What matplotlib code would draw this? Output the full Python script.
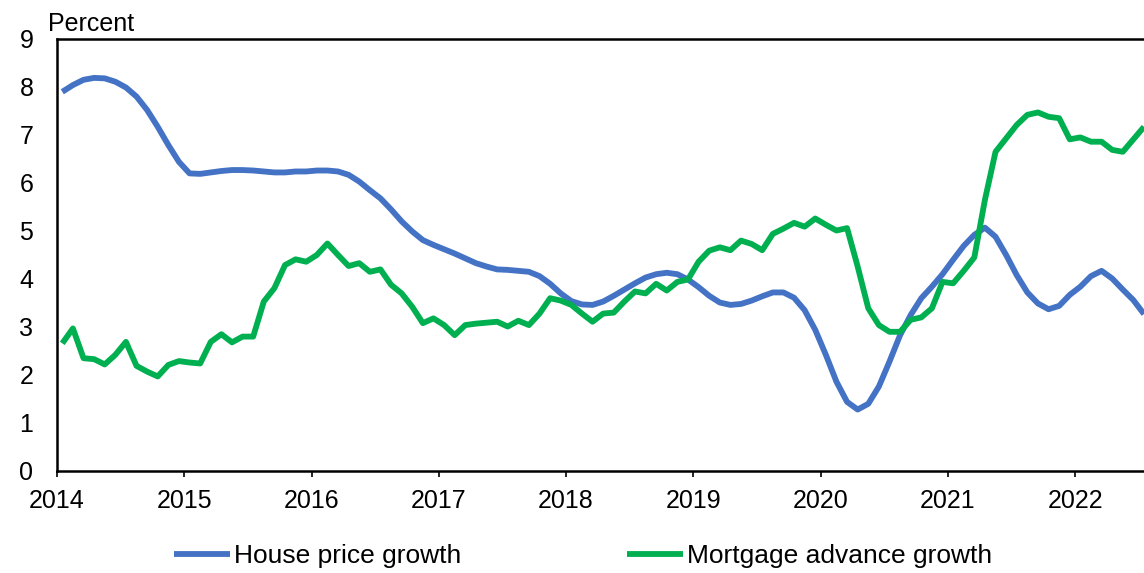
import numpy as np
import matplotlib
matplotlib.use("Agg")
from matplotlib import pyplot as plt

plt.rcParams['font.family'] = ['Liberation Sans', 'DejaVu Sans']

# monthly data, Jan 2014 - Jul 2022
start_year = 2014
house_price = [7.90, 8.04, 8.15, 8.19, 8.18, 8.11, 7.99, 7.80, 7.52, 7.17,
               6.79, 6.44, 6.20, 6.19, 6.22, 6.25, 6.27, 6.27, 6.26, 6.24,
               6.22, 6.22, 6.24, 6.24, 6.26, 6.26, 6.24, 6.17, 6.03, 5.85,
               5.68, 5.45, 5.20, 4.99, 4.81, 4.71, 4.62, 4.53, 4.43, 4.33,
               4.26, 4.20, 4.19, 4.17, 4.15, 4.06, 3.90, 3.70, 3.54, 3.47,
               3.46, 3.53, 3.65, 3.78, 3.91, 4.03, 4.10, 4.13, 4.10, 3.99,
               3.83, 3.65, 3.51, 3.46, 3.48, 3.55, 3.64, 3.72, 3.72, 3.61,
               3.35, 2.94, 2.42, 1.86, 1.44, 1.28, 1.40, 1.76, 2.28, 2.83,
               3.25, 3.60, 3.84, 4.10, 4.40, 4.69, 4.92, 5.07, 4.88, 4.50,
               4.08, 3.72, 3.49, 3.37, 3.44, 3.67, 3.84, 4.06, 4.17, 4.01,
               3.78, 3.56, 3.27]
mortgage = [2.66, 2.97, 2.35, 2.33, 2.22, 2.42, 2.69, 2.19, 2.07, 1.97,
            2.21, 2.29, 2.26, 2.24, 2.69, 2.85, 2.68, 2.80, 2.80, 3.53,
            3.81, 4.29, 4.41, 4.36, 4.50, 4.74, 4.50, 4.27, 4.33, 4.15,
            4.20, 3.88, 3.70, 3.42, 3.08, 3.18, 3.04, 2.83, 3.04, 3.07,
            3.09, 3.11, 3.01, 3.13, 3.04, 3.28, 3.60, 3.55, 3.46, 3.28,
            3.11, 3.28, 3.30, 3.53, 3.74, 3.70, 3.90, 3.76, 3.94, 3.99,
            4.36, 4.59, 4.66, 4.60, 4.80, 4.73, 4.60, 4.94, 5.05, 5.17,
            5.09, 5.26, 5.13, 5.01, 5.06, 4.26, 3.39, 3.04, 2.90, 2.90,
            3.15, 3.20, 3.39, 3.94, 3.91, 4.17, 4.45, 5.65, 6.65, 6.93,
            7.21, 7.42, 7.47, 7.38, 7.35, 6.91, 6.95, 6.86, 6.86, 6.69,
            6.65, 6.91, 7.17]
years = list(range(2014, 2023))

# plot points at mid-month
x = start_year + (np.arange(len(house_price)) + 0.5) / 12

fig = plt.figure(figsize=(11.44, 5.73), dpi=100)
ax = fig.add_axes([57/1144, 1 - 471/573, 1 - 57/1144, (471 - 39)/573])

ax.plot(x, house_price, color='#4472C4', lw=4.2, label='House price growth',
        solid_capstyle='butt')
ax.plot(x, mortgage, color='#00B050', lw=4.2, label='Mortgage advance growth',
        solid_capstyle='butt')

ax.set_xlim(2014, x[-1])
ax.set_ylim(0, 9)
ax.set_xticks(years)
ax.set_xticklabels([str(y) for y in years])
ax.set_yticks(range(0, 10))
ax.spines['right'].set_visible(False)
for s in ['left', 'bottom', 'top']:
    ax.spines[s].set_linewidth(1.8)
ax.tick_params(axis='x', direction='out', length=4, width=1.2, pad=9, labelsize=18)
ax.tick_params(axis='y', length=0, pad=17, labelsize=18)

fig.text(48/1144, 1 - 31/573, 'Percent', fontsize=18, va='baseline', ha='left')

fig.legend(loc='center', bbox_to_anchor=(583/1144, 1 - 556/573), ncol=2,
           frameon=False, fontsize=19, handlelength=2.1, handletextpad=0.15,
           columnspacing=6.3, borderpad=0, borderaxespad=0)

plt.savefig('out.png', dpi=100)
